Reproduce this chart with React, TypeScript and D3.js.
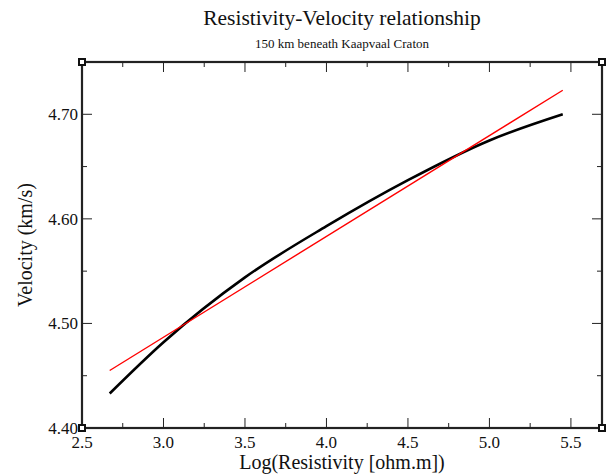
import React from "react";
import * as d3 from "d3";

const blackX = [2.67, 3.0, 3.5, 4.0, 4.5, 5.0, 5.45];
const blackY = [4.433, 4.482, 4.544, 4.593, 4.637, 4.675, 4.7];
const redX = [2.67, 5.45];
const redY = [4.455, 4.723];
const xMajor = [2.5, 3.0, 3.5, 4.0, 4.5, 5.0, 5.5];
const xMinor = [2.75, 3.25, 3.75, 4.25, 4.75, 5.25];
const yMajor = [4.4, 4.5, 4.6, 4.7];
const yMinor = [4.45, 4.55, 4.65];

const W = 608;
const H = 476;
const L = 82, R = 602, T = 62, B = 428;
const FONT = "'Liberation Serif', 'DejaVu Serif', serif";

export default function App() {
  const x = d3.scaleLinear().domain([2.5, 5.7]).range([L, 603.5]);
  const y = d3.scaleLinear().domain([4.4, 4.75]).range([B, T]);
  const line = d3
    .line<[number, number]>()
    .x((d) => x(d[0]))
    .y((d) => y(d[1]))
    .curve(d3.curveMonotoneX);
  const black: [number, number][] = blackX.map((v, i) => [v, blackY[i]]);
  const red: [number, number][] = redX.map((v, i) => [v, redY[i]]);
  const frame = "#222";
  const corners = [
    [L, T],
    [R, T],
    [L, B],
    [R, B],
  ];
  return (
    <svg
      width={W}
      height={H}
      style={{ position: "absolute", left: 0, top: 0, display: "block", background: "#fff" }}
      fontFamily={FONT}
    >
      <text x={342} y={25} fontSize={21.5} textAnchor="middle" fill="#111">
        Resistivity-Velocity relationship
      </text>
      <text x={342} y={48} fontSize={13} textAnchor="middle" fill="#111">
        150 km beneath Kaapvaal Craton
      </text>

      {xMajor.map((v) => (
        <g key={"xM" + v}>
          <line x1={x(v)} x2={x(v)} y1={B} y2={B - 10} stroke={frame} strokeWidth={1} />
          <line x1={x(v)} x2={x(v)} y1={T} y2={T + 10} stroke={frame} strokeWidth={1} />
          <text x={x(v)} y={448} fontSize={17} textAnchor="middle" fill="#111">
            {v.toFixed(1)}
          </text>
        </g>
      ))}
      {xMinor.map((v) => (
        <g key={"xm" + v}>
          <line x1={x(v)} x2={x(v)} y1={B} y2={B - 5} stroke={frame} strokeWidth={1} />
          <line x1={x(v)} x2={x(v)} y1={T} y2={T + 5} stroke={frame} strokeWidth={1} />
        </g>
      ))}
      {yMajor.map((v) => (
        <g key={"yM" + v}>
          <line x1={L} x2={L + 10} y1={y(v)} y2={y(v)} stroke={frame} strokeWidth={1} />
          <line x1={R} x2={R - 10} y1={y(v)} y2={y(v)} stroke={frame} strokeWidth={1} />
          <text x={78} y={y(v) + 6} fontSize={17} textAnchor="end" fill="#111">
            {v.toFixed(2)}
          </text>
        </g>
      ))}
      {yMinor.map((v) => (
        <g key={"ym" + v}>
          <line x1={L} x2={L + 5} y1={y(v)} y2={y(v)} stroke={frame} strokeWidth={1} />
          <line x1={R} x2={R - 5} y1={y(v)} y2={y(v)} stroke={frame} strokeWidth={1} />
        </g>
      ))}

      <path d={line(black) || ""} fill="none" stroke="#000" strokeWidth={2.6} />
      <path d={line(red) || ""} fill="none" stroke="#ff0000" strokeWidth={1.4} />

      <rect x={L} y={T} width={R - L} height={B - T} fill="none" stroke={frame} strokeWidth={2.2} />
      {corners.map(([cx, cy], i) => (
        <rect
          key={"c" + i}
          x={cx - 3}
          y={cy - 3}
          width={6}
          height={6}
          fill="#fff"
          stroke="#111"
          strokeWidth={2}
        />
      ))}

      <text x={342} y={469} fontSize={20} textAnchor="middle" fill="#111">
        Log(Resistivity [ohm.m])
      </text>
      <text
        transform={`translate(32, ${(T + B) / 2}) rotate(-90)`}
        fontSize={20}
        textAnchor="middle"
        fill="#111"
      >
        Velocity (km/s)
      </text>
    </svg>
  );
}
